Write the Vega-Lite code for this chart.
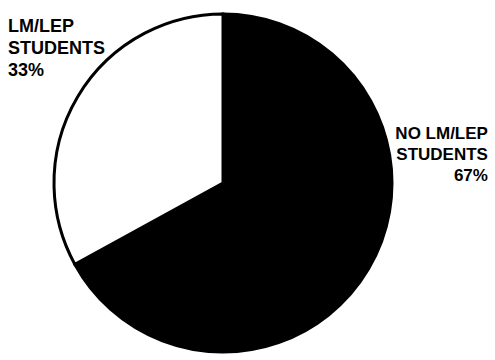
{
  "$schema": "https://vega.github.io/schema/vega-lite/v6.json",
  "autosize": {"type": "none"},
  "width": 340,
  "height": 340,
  "padding": {"left": 53, "top": 13, "right": 102, "bottom": 7},
  "background": "white",
  "config": {"view": {"stroke": null}},
  "data": {
    "values": [
      {"category": "NO LM/LEP STUDENTS", "label": ["NO LM/LEP", "STUDENTS", "67%"], "percent": 67},
      {"category": "LM/LEP STUDENTS", "label": ["LM/LEP", "STUDENTS", "33%"], "percent": 33}
    ]
  },
  "encoding": {
    "theta": {"field": "percent", "type": "quantitative", "stack": true},
    "order": {"field": "category", "sort": "descending"}
  },
  "layer": [
    {
      "mark": {"type": "arc", "outerRadius": 169, "stroke": "black", "strokeWidth": 3},
      "encoding": {
        "color": {
          "field": "category",
          "type": "nominal",
          "scale": {"domain": ["NO LM/LEP STUDENTS", "LM/LEP STUDENTS"], "range": ["black", "white"]},
          "legend": null
        }
      }
    },
    {
      "mark": {
        "type": "text",
        "radius": 180,
        "align": "right",
        "baseline": "alphabetic",
        "dx": 110,
        "dy": -136,
        "font": "Liberation Sans",
        "fontWeight": "bold",
        "fontSize": 17,
        "lineHeight": 21,
        "color": "black"
      },
      "encoding": {
        "text": {"condition": {"test": "datum.category == 'NO LM/LEP STUDENTS'", "field": "label"}, "value": ""}
      }
    },
    {
      "mark": {
        "type": "text",
        "radius": 180,
        "align": "left",
        "baseline": "alphabetic",
        "dx": -60,
        "dy": -59,
        "font": "Liberation Sans",
        "fontWeight": "bold",
        "fontSize": 18,
        "lineHeight": 22,
        "color": "black"
      },
      "encoding": {
        "text": {"condition": {"test": "datum.category == 'LM/LEP STUDENTS'", "field": "label"}, "value": ""}
      }
    }
  ]
}
